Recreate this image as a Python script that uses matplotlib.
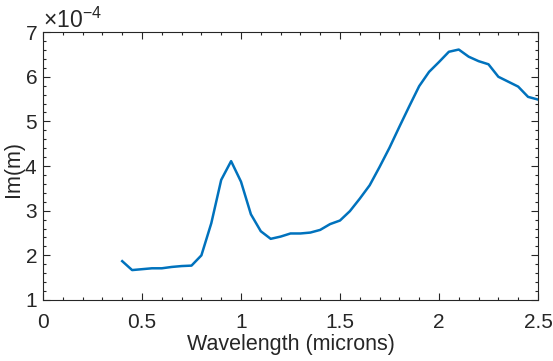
import matplotlib
matplotlib.use("Agg")
import matplotlib.pyplot as plt
import numpy as np
from matplotlib.ticker import MultipleLocator, ScalarFormatter

# wavelength (microns) and imaginary refractive index (x 1e-4)
wavelength = [0.40, 0.45, 0.50, 0.55, 0.60, 0.65, 0.70, 0.75, 0.80, 0.85,
              0.90, 0.95, 1.00, 1.05, 1.10, 1.15, 1.20, 1.25, 1.30, 1.35,
              1.40, 1.45, 1.50, 1.55, 1.60, 1.65, 1.70, 1.75, 1.80, 1.85,
              1.90, 1.95, 2.00, 2.05, 2.10, 2.15, 2.20, 2.25, 2.30, 2.35,
              2.40, 2.45, 2.50]
im_m = [1.87, 1.67, 1.69, 1.71, 1.71, 1.74, 1.76, 1.77, 2.00, 2.72,
        3.69, 4.11, 3.65, 2.92, 2.54, 2.37, 2.42, 2.49, 2.49, 2.51,
        2.57, 2.70, 2.78, 2.99, 3.27, 3.57, 3.98, 4.41, 4.88, 5.34,
        5.79, 6.11, 6.33, 6.56, 6.61, 6.45, 6.35, 6.28, 6.00, 5.89,
        5.78, 5.55, 5.49]
xtick_labels = ["0", "0.5", "1", "1.5", "2", "2.5"]

AX_COLOR = "#262626"

plt.rcParams.update({
    "font.family": ["Liberation Sans", "DejaVu Sans"],
    "font.size": 15,
    "mathtext.fontset": "custom",
    "mathtext.rm": "Liberation Sans",
    "axes.edgecolor": AX_COLOR,
    "axes.labelcolor": AX_COLOR,
    "xtick.color": AX_COLOR,
    "ytick.color": AX_COLOR,
    "axes.linewidth": 0.8,
})

fig = plt.figure(figsize=(5.53, 3.61), dpi=100)
ax = fig.add_axes([0.0778, 0.169, 0.895, 0.742])

ax.plot(wavelength, np.array(im_m) * 1e-4, color="#0072BD", linewidth=1.8)

ax.set_xlim(0, 2.5)
ax.set_ylim(1e-4, 7e-4)
ax.set_xticks([0, 0.5, 1, 1.5, 2, 2.5])
ax.set_xticklabels(xtick_labels)
ax.xaxis.set_minor_locator(MultipleLocator(0.1))
ax.yaxis.set_major_locator(MultipleLocator(1e-4))
ax.yaxis.set_minor_locator(MultipleLocator(0.2e-4))

fmt = ScalarFormatter(useMathText=True)
fmt.set_powerlimits((0, 0))
ax.yaxis.set_major_formatter(fmt)
ax.yaxis.get_offset_text().set_fontsize(16.5)
ax.yaxis.get_offset_text().set_color(AX_COLOR)

ax.tick_params(which="both", direction="in", top=True, right=True, width=0.8)
ax.tick_params(which="major", length=5)
ax.tick_params(which="minor", length=2.5)
ax.tick_params(axis="x", which="major", pad=9.5)
ax.tick_params(axis="y", which="major", pad=4)

ax.set_xlabel("Wavelength (microns)", fontsize=15.5, labelpad=1)
ax.set_ylabel("Im(m)", fontsize=15.5)
ax.yaxis.set_label_coords(-0.039, 0.49)

fig.savefig("out.png", dpi=100)
